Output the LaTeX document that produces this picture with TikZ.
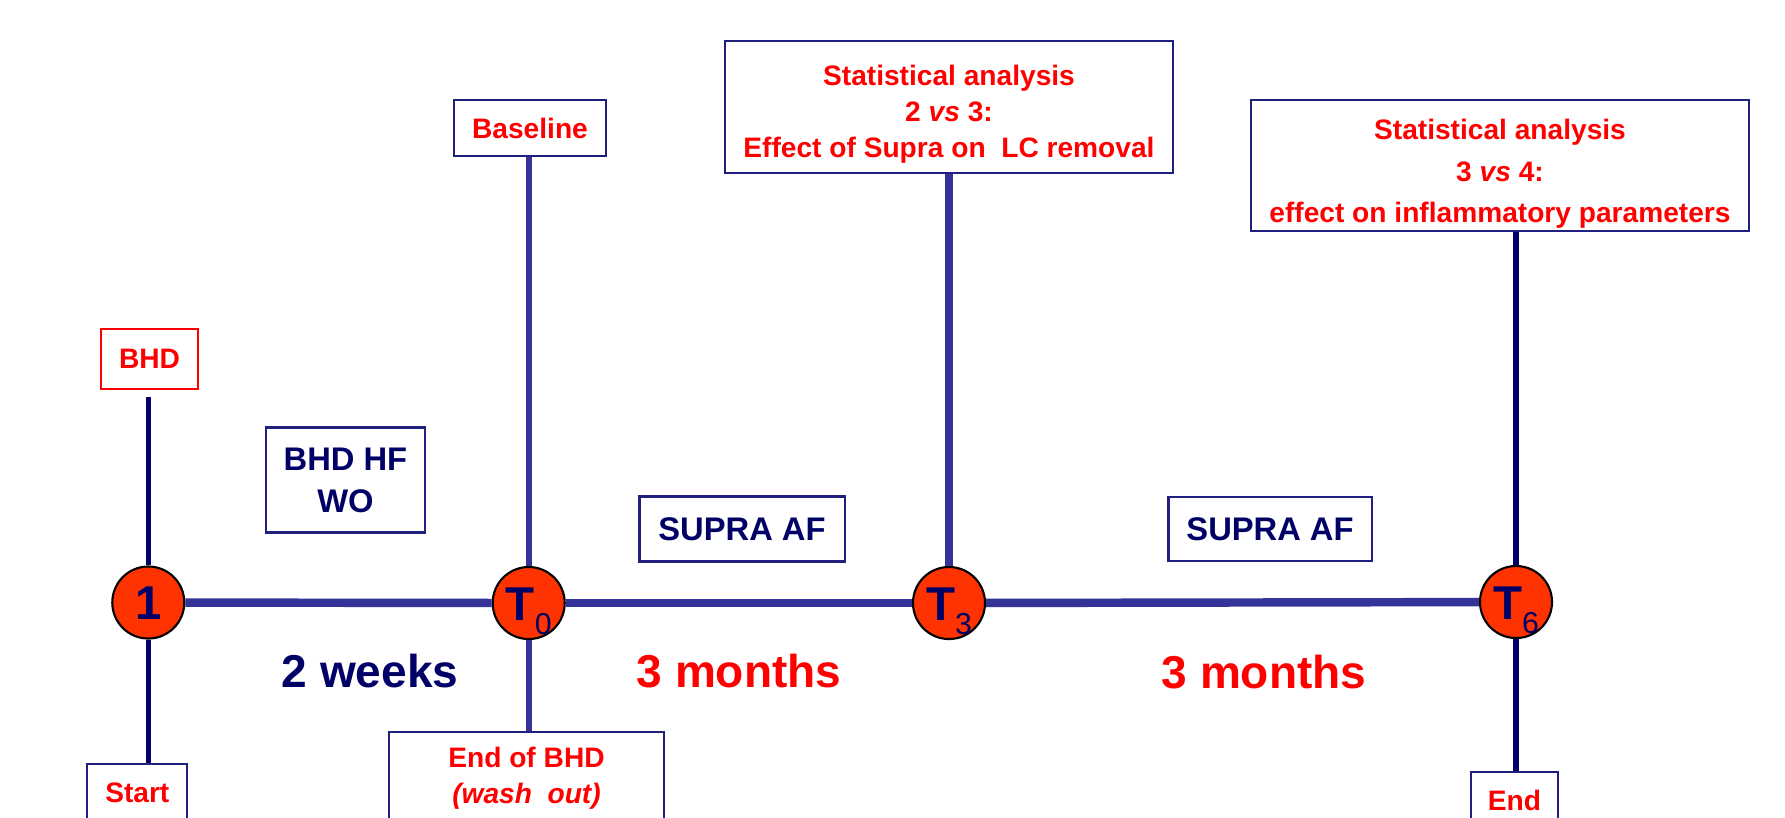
\documentclass[tikz,border=0pt]{standalone}
\usepackage{fontspec}
\setmainfont{Liberation Sans}
\definecolor{navy}{RGB}{0,0,102}
\definecolor{lineblue}{RGB}{51,51,153}
\definecolor{boxblue}{RGB}{32,32,128}
\definecolor{dotred}{RGB}{255,51,0}
\definecolor{txtred}{RGB}{255,0,0}
\begin{document}
\begin{tikzpicture}[x=0.01cm,y=-0.01cm,
  box/.style={draw=boxblue, line width=0.6pt, inner sep=0pt, align=center,
    text=txtred, font=\bfseries\fontsize{8}{10.2}\selectfont},
  boxtext/.style={inner sep=0pt, align=center, text=txtred,
    font=\bfseries\fontsize{8}{10.2}\selectfont},
  redbox/.style={box, draw=txtred},
  bluebox/.style={box, text=navy, font=\bfseries\fontsize{9.3}{11.9}\selectfont},
  dot/.style={circle, draw=black, line width=0.6pt, fill=dotred, minimum size=0.72cm,
    inner sep=0pt, text=navy, text height=9.7pt, text depth=0pt,
    font=\bfseries\fontsize{13.5}{14}\selectfont},
  axis/.style={draw=lineblue, line width=2.4pt},
  stem/.style={draw=navy, line width=1.5pt},
  stemb/.style={draw=lineblue, line width=1.6pt},
  period/.style={inner sep=0pt, font=\bfseries\fontsize{13.1}{14}\selectfont}]
\clip (0,0) rectangle (1785,817);
\fill[white] (0,0) rectangle (1785,817);

% time points
\node[dot] (c1) at (148.3,602.5) {1};
\node[dot] (t0) at (528.7,603) {T\raisebox{-4pt}{\mdseries\fontsize{8.6}{9}\selectfont 0}};
\node[dot] (t3) at (949,603) {T\raisebox{-4pt}{\mdseries\fontsize{8.6}{9}\selectfont 3}};
\node[dot] (t6) at (1516,602) {T\raisebox{-4pt}{\mdseries\fontsize{8.6}{9}\selectfont 6}};

% boxes
\node[redbox, minimum width=0.976cm, minimum height=0.60cm] (bhd) at (149.5,359) {BHD};
\node[bluebox, minimum width=1.59cm, minimum height=1.05cm] (wo) at (345.5,480) {BHD HF\\WO};
\node[box, minimum width=1.00cm, minimum height=0.58cm] (start) at (137.3,793) {Start};
\node[box, minimum width=1.52cm, minimum height=0.56cm] (base) at (530,128) {Baseline};
\node[box, minimum width=2.75cm, minimum height=0.92cm] (endbhd) at (526.5,778)
  {End of BHD\\\itshape (wash\ \ out)};
\node[box, minimum width=4.48cm, minimum height=1.32cm] (stat1) at (949,107) {};
\node[boxtext] (stat1t) at (949,114)
  {Statistical analysis\\2 \textit{vs} 3:\\Effect of Supra on\ \ LC removal};
\node[box, minimum width=4.97cm, minimum height=1.31cm] (stat2) at (1500,165.5) {};
\node[boxtext, font=\bfseries\fontsize{8}{11.8}\selectfont] (stat2t) at (1500,174)
  {Statistical analysis\\3 \textit{vs} 4:\\effect on inflammatory parameters};
\node[bluebox, minimum width=2.05cm, minimum height=0.65cm] (supra1) at (742,529) {SUPRA AF};
\node[bluebox, minimum width=2.03cm, minimum height=0.64cm] (supra2) at (1270,529) {SUPRA AF};
\node[box, minimum width=0.87cm, minimum height=0.56cm] (endb) at (1514.5,800) {End};

% period labels
\node[period, text=navy] (w2) at (370,671) {2 weeks};
\node[period, text=txtred] (m3a) at (739,671) {3 months};
\node[period, text=txtred] (m3b) at (1264,672) {3 months};

% axis
\draw[axis] (c1) -- (t0);
\draw[axis] (t0) -- (t3);
\draw[axis] (t3) -- (t6);

% stems
\draw[stem, shorten >=0.07cm] (c1.north) -- (c1.north |- bhd.south);
\draw[stem] (c1.south) -- (c1.south |- start.north);
\draw[stemb] (t0.north) -- (t0.north |- base.south);
\draw[stemb] (t0.south) -- (t0.south |- endbhd.north);
\draw[stemb, line width=2.2pt] (t3.north) -- (t3.north |- stat1.south);
\draw[stem] (t6.north) -- (t6.north |- stat2.south);
\draw[stem] (t6.south) -- (t6.south |- endb.north);
\end{tikzpicture}
\end{document}
